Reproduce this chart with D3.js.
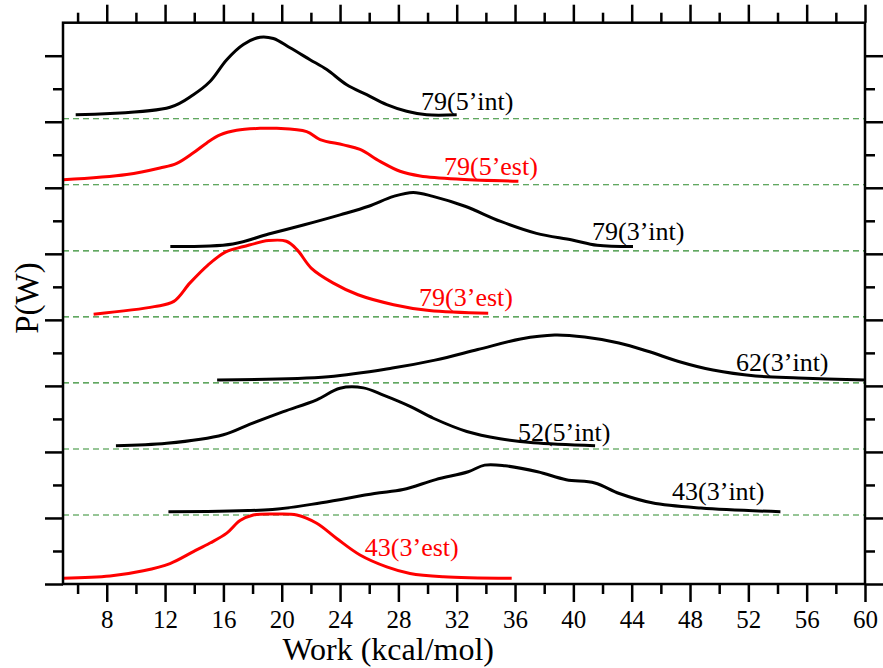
<!DOCTYPE html>
<html>
<head>
<meta charset="utf-8">
<script src="https://cdn.jsdelivr.net/npm/d3@7"></script>
<style>
  body { margin: 0; background: #fff; }
  svg, svg text { font-family: "Liberation Serif", "DejaVu Serif", serif !important; }
</style>
</head>
<body>
<div id="chart"></div>
<script>
// ----------------------------------------------- //
// Data (work in kcal/mol, P(W) above each baseline)
var work_79_5int = [5.87, 12.34, 13.94, 15.08, 16.23, 17.37, 18.51, 19.43, 20.57, 21.94, 23.09, 24.46, 25.83, 27.2, 28.57, 29.94, 32.0];
var p_79_5int    = [0.106, 0.22, 0.41, 0.61, 0.94, 1.17, 1.28, 1.26, 1.12, 0.94, 0.79, 0.56, 0.41, 0.26, 0.16, 0.106, 0.106];

var work_79_5est = [5.02, 9.37, 11.65, 12.8, 13.94, 14.86, 15.77, 16.91, 18.51, 19.66, 21.71, 22.63, 24.23, 25.37, 26.74, 28.11, 29.49, 32.23, 36.23];
var p_79_5est    = [0.12, 0.2, 0.3, 0.37, 0.53, 0.68, 0.8, 0.87, 0.9, 0.9, 0.85, 0.73, 0.65, 0.58, 0.4, 0.25, 0.18, 0.13, 0.1];

var work_79_3int = [12.36, 16.65, 19.1, 21.55, 24.0, 25.96, 27.67, 29.02, 30.37, 32.57, 35.02, 37.47, 39.92, 41.63, 44.09];
var p_79_3int    = [0.11, 0.15, 0.3, 0.44, 0.59, 0.72, 0.87, 0.93, 0.87, 0.72, 0.49, 0.31, 0.21, 0.13, 0.11];

var work_79_3est = [7.1, 11.26, 12.6, 13.71, 14.94, 16.16, 17.39, 19.1, 20.32, 21.06, 22.04, 23.51, 25.23, 27.67, 30.12, 34.16];
var p_79_3est    = [0.086, 0.2, 0.28, 0.56, 0.83, 1.03, 1.11, 1.2, 1.19, 1.06, 0.78, 0.56, 0.38, 0.23, 0.14, 0.1];

var work_62_3int = [15.57, 23.19, 27.59, 30.51, 33.44, 36.38, 38.72, 40.77, 43.12, 45.17, 47.22, 49.57, 52.5, 55.43, 60.0];
var p_62_3int    = [0.09, 0.14, 0.27, 0.39, 0.55, 0.71, 0.77, 0.74, 0.65, 0.52, 0.37, 0.24, 0.15, 0.12, 0.09];

var work_52_5int = [8.63, 12.11, 16.0, 17.83, 20.11, 22.4, 24.0, 25.6, 26.97, 28.8, 30.4, 32.69, 34.97, 37.26, 41.49];
var p_52_5int    = [0.095, 0.13, 0.26, 0.42, 0.61, 0.79, 0.965, 0.97, 0.86, 0.69, 0.51, 0.31, 0.2, 0.14, 0.095];

var work_43_3int = [12.23, 19.36, 22.72, 26.36, 28.32, 30.56, 32.79, 33.92, 35.32, 37.55, 39.51, 41.47, 43.15, 45.39, 48.75, 54.2];
var p_43_3int    = [0.095, 0.13, 0.23, 0.37, 0.43, 0.58, 0.7, 0.8, 0.79, 0.7, 0.58, 0.53, 0.37, 0.23, 0.15, 0.095];

var work_43_3est = [5.02, 8.22, 10.51, 12.34, 13.94, 15.08, 16.23, 17.14, 18.05, 19.66, 21.03, 22.4, 23.77, 25.37, 27.2, 28.8, 31.08, 35.77];
var p_43_3est    = [0.086, 0.12, 0.2, 0.31, 0.49, 0.62, 0.77, 0.96, 1.045, 1.06, 1.045, 0.92, 0.69, 0.44, 0.26, 0.16, 0.11, 0.086];

// Curve labels and the stacking level of each curve (bottom = 0)
var curveLabels = ["43(3’est)", "43(3’int)", "52(5’int)", "62(3’int)", "79(3’est)", "79(3’int)", "79(5’est)", "79(5’int)"];
var curveLevels = [0, 1, 2, 3, 4, 5, 6, 7];
var baselineLevels = [1, 2, 3, 4, 5, 6, 7];

// Axis ticks
var xMajorTicks = [8, 12, 16, 20, 24, 28, 32, 36, 40, 44, 48, 52, 56, 60];
var xMinorTicks = [6, 10, 14, 18, 22, 26, 30, 34, 38, 42, 46, 50, 54, 58];
var yMajorTicks = [0, 1, 2, 3, 4, 5, 6, 7, 8];
var yMinorTicks = [0.5, 1.5, 2.5, 3.5, 4.5, 5.5, 6.5, 7.5];

// ----------------------------------------------- //
var svgWidth = 883;
var svgHeight = 668;
var serif = "Liberation Serif, DejaVu Serif, serif";

var margin = { top: 22.7, right: 18, bottom: 84, left: 63 };
var chartWidth = svgWidth - margin.left - margin.right;
var chartHeight = svgHeight - margin.top - margin.bottom;

var svg = d3.select("#chart")
    .append("svg")
    .attr("width", svgWidth)
    .attr("height", svgHeight)
    .attr("font-family", serif);

var chartGroup = svg.append("g")
    .attr("transform", `translate(${margin.left}, ${margin.top})`);

var xScale = d3.scaleLinear().domain([5, 60]).range([0, chartWidth]);
var yScale = d3.scaleLinear().domain([0, 8.5]).range([chartHeight, 0]);

// ----------------------------------------------- //
// Series table built from the arrays above
var series = [
    { work: work_43_3est, p: p_43_3est, color: "#ff0000" },
    { work: work_43_3int, p: p_43_3int, color: "#000000" },
    { work: work_52_5int, p: p_52_5int, color: "#000000" },
    { work: work_62_3int, p: p_62_3int, color: "#000000" },
    { work: work_79_3est, p: p_79_3est, color: "#ff0000" },
    { work: work_79_3int, p: p_79_3int, color: "#000000" },
    { work: work_79_5est, p: p_79_5est, color: "#ff0000" },
    { work: work_79_5int, p: p_79_5int, color: "#000000" }
];
series.forEach(function(s, i) {
    s.label = curveLabels[i];
    s.level = curveLevels[i];
});

// label anchors (work, P) for each curve
var labelAnchors = [
    [25.7, 0.42], [46.77, 1.27], [36.2, 2.17], [51.16, 3.23],
    [29.42, 4.21], [41.28, 5.21], [31.13, 6.2], [29.55, 7.18]
];

// ----------------------------------------------- //
// Dashed baselines
chartGroup.selectAll(".baseline")
    .data(baselineLevels)
    .enter()
    .append("line")
    .attr("class", "baseline")
    .attr("x1", 0)
    .attr("x2", chartWidth)
    .attr("y1", d => yScale(d + 0.045))
    .attr("y2", d => yScale(d + 0.045))
    .attr("stroke", "#2e8b2e")
    .attr("stroke-width", 1.1)
    .attr("stroke-dasharray", "6,4");

// Curves
var line = d3.line()
    .x(d => xScale(d[0]))
    .y(d => yScale(d[1]))
    .curve(d3.curveCatmullRom.alpha(0.5));

chartGroup.selectAll(".curve")
    .data(series)
    .enter()
    .append("path")
    .attr("class", "curve")
    .attr("fill", "none")
    .attr("stroke", d => d.color)
    .attr("stroke-width", 3)
    .attr("stroke-linejoin", "round")
    .attr("d", d => line(d.work.map((w, i) => [w, d.level + d.p[i]])));

// Curve labels
chartGroup.selectAll(".clabel")
    .data(series)
    .enter()
    .append("text")
    .attr("class", "clabel")
    .attr("x", (d, i) => xScale(labelAnchors[i][0]))
    .attr("y", (d, i) => yScale(labelAnchors[i][1]))
    .attr("font-family", serif)
    .attr("font-size", 26)
    .attr("fill", d => d.color)
    .text(d => d.label);

// ----------------------------------------------- //
// Axes: ticks outward on all four sides
function drawXAxis(axisGen, y, majorLen, minorLen, withLabels) {
    var g = chartGroup.append("g").attr("transform", `translate(0, ${y})`);
    g.call(axisGen(xScale).tickValues(xMinorTicks).tickSize(minorLen).tickFormat(""));
    var major = chartGroup.append("g").attr("transform", `translate(0, ${y})`);
    major.call(axisGen(xScale).tickValues(xMajorTicks).tickSize(majorLen).tickPadding(8)
        .tickFormat(withLabels ? d3.format("d") : ""));
    [g, major].forEach(function(a) {
        a.attr("font-family", serif);
        a.select(".domain").remove();
        a.selectAll("line").attr("stroke", "#000").attr("stroke-width", 2.5);
    });
    major.selectAll("text")
        .attr("font-family", serif)
        .attr("font-size", 25)
        .attr("fill", "#000");
}

function drawYAxis(axisGen, x) {
    var g = chartGroup.append("g").attr("transform", `translate(${x}, 0)`);
    g.call(axisGen(yScale).tickValues(yMinorTicks).tickSize(10).tickFormat(""));
    var major = chartGroup.append("g").attr("transform", `translate(${x}, 0)`);
    major.call(axisGen(yScale).tickValues(yMajorTicks).tickSize(18).tickFormat(""));
    [g, major].forEach(function(a) {
        a.select(".domain").remove();
        a.selectAll("line").attr("stroke", "#000").attr("stroke-width", 2.5);
    });
}

drawXAxis(d3.axisBottom, chartHeight, 18, 10, true);
drawXAxis(d3.axisTop, 0, 18, 10, false);
drawYAxis(d3.axisLeft, 0);
drawYAxis(d3.axisRight, chartWidth);

// Frame
chartGroup.append("rect")
    .attr("x", 0)
    .attr("y", 0)
    .attr("width", chartWidth)
    .attr("height", chartHeight)
    .attr("fill", "none")
    .attr("stroke", "#000")
    .attr("stroke-width", 2.5);

// Axis titles
svg.append("text")
    .attr("x", margin.left + xScale(27.3))
    .attr("y", 660)
    .attr("text-anchor", "middle")
    .attr("font-family", serif)
    .attr("font-size", 32)
    .text("Work (kcal/mol)");

svg.append("text")
    .attr("transform", "translate(38, 298) rotate(-90)")
    .attr("text-anchor", "middle")
    .attr("font-family", serif)
    .attr("font-size", 33)
    .text("P(W)");
</script>
</body>
</html>
